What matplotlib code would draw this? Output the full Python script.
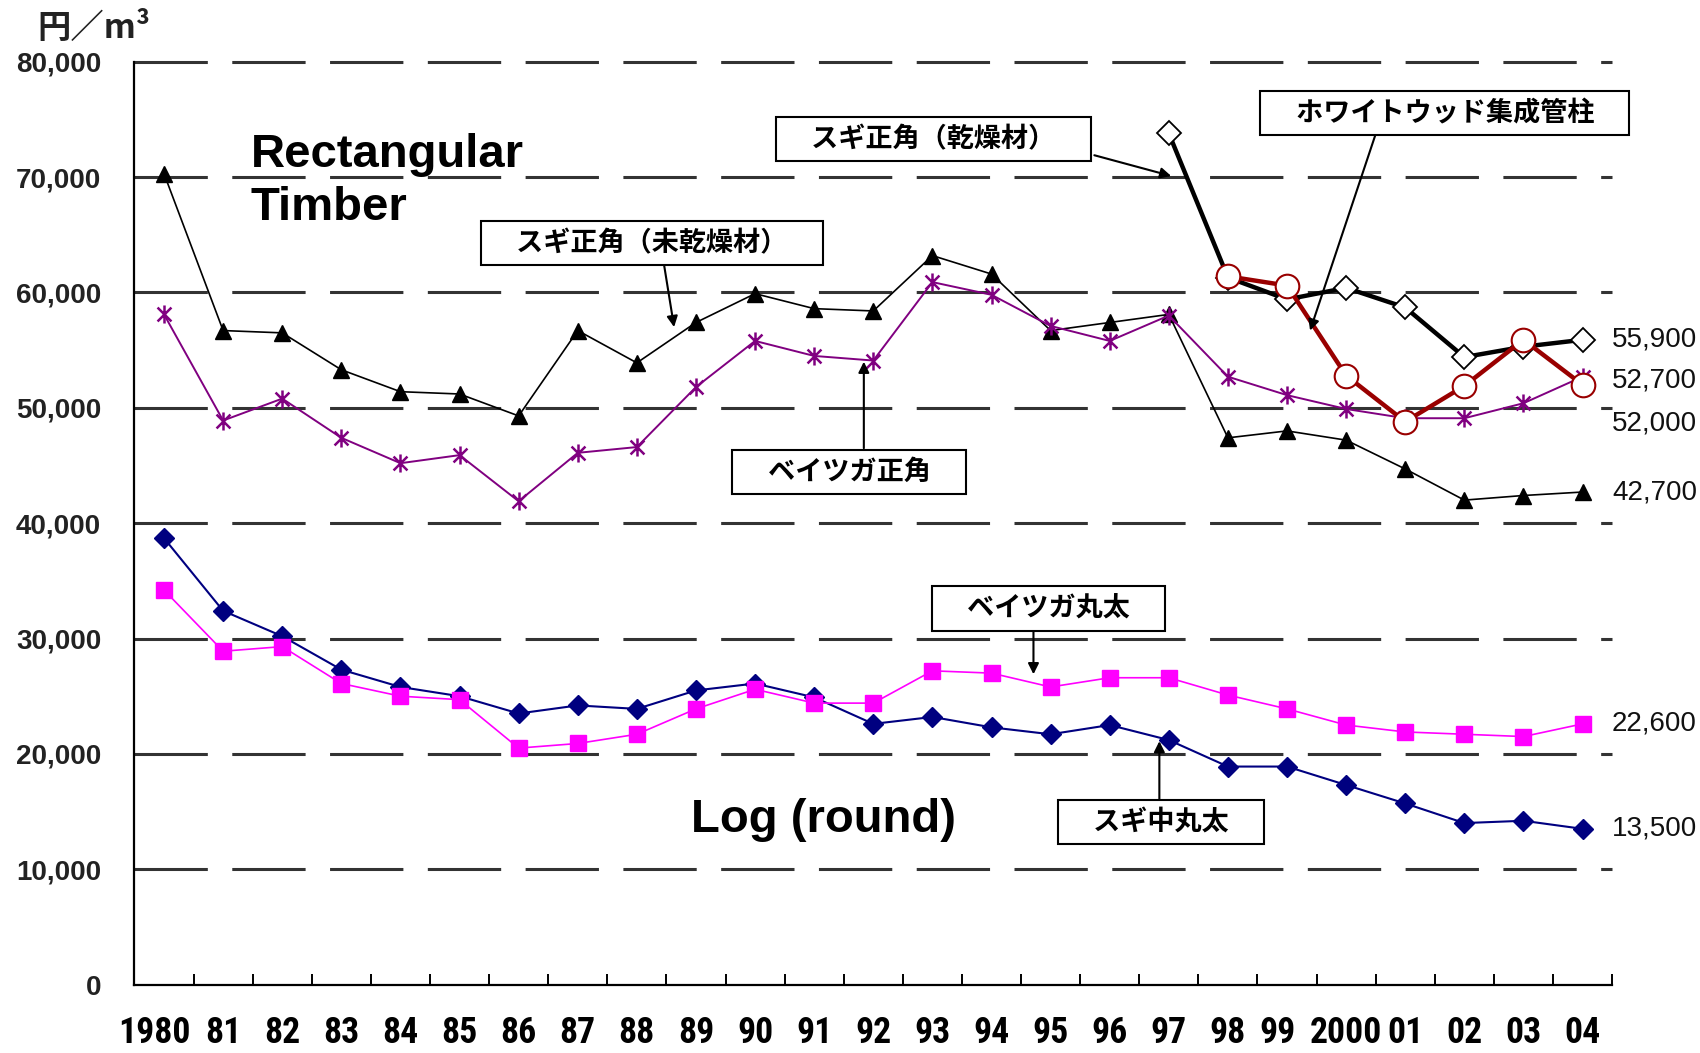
import matplotlib
matplotlib.use("Agg")
import matplotlib.pyplot as plt
from matplotlib import font_manager
from matplotlib.font_manager import FontProperties
from matplotlib.transforms import ScaledTranslation
from matplotlib.path import Path

# ---- data (円/m3) ----
YEARS = ["1980", "81", "82", "83", "84", "85", "86", "87", "88", "89", "90", "91", "92",
         "93", "94", "95", "96", "97", "98", "99", "2000", "01", "02", "03", "04"]

sugi_green = [70300, 56700, 56500, 53300, 51400, 51200, 49300, 56700, 53900, 57400, 59900, 58600, 58400,
              63200, 61600, 56700, 57400, 58100, 47400, 48000, 47200, 44700, 42000, 42400, 42700]
hemlock_sq = [58100, 48900, 50800, 47400, 45200, 45900, 41900, 46100, 46600, 51800, 55800, 54500, 54100,
              60900, 59800, 57100, 55800, 58000, 52700, 51100, 49900, 49100, 49100, 50400, 52700]
sugi_dry_years = YEARS[17:]
sugi_dry = [73800, 61300, 59400, 60400, 58700, 54400, 55300, 55900]
whitewood_years = YEARS[18:]
whitewood = [61400, 60600, 52800, 48800, 51900, 55900, 52000]
hemlock_log = [34200, 28900, 29300, 26100, 25000, 24700, 20500, 20900, 21700, 23900, 25600, 24400, 24400,
               27200, 27000, 25800, 26600, 26600, 25100, 23900, 22500, 21900, 21700, 21500, 22600]
sugi_log = [38700, 32400, 30200, 27300, 25800, 25000, 23500, 24200, 23900, 25500, 26100, 24900, 22600,
            23200, 22300, 21700, 22500, 21200, 18900, 18900, 17300, 15700, 14000, 14200, 13500]

END_LABELS = ["55,900", "52,700", "52,000", "42,700", "22,600", "13,500"]


def find_narrow_bold():
    """look for a condensed / narrow bold sans face, best first"""
    prefs = ["liberation sans narrow", "roboto condensed", "open sans condensed",
             "dejavu sans condensed", "noto sans condensed"]
    found = []
    for f in font_manager.fontManager.ttflist:
        n, fn = f.name.lower(), f.fname.lower()
        cond = ("narrow" in n or "condensed" in n or "narrow" in fn or "condensed" in fn
                or f.stretch in ("condensed", "semi-condensed", "extra-condensed"))
        w = f.weight if isinstance(f.weight, int) else (700 if "bold" in str(f.weight) else 400)
        if not cond or f.style != "normal" or w < 600 or "mono" in n or "serif" in n.replace("sans", ""):
            continue
        rank = next((i for i, p in enumerate(prefs) if p in n or p.replace(" ", "") in fn.replace("-", "")), 9)
        found.append((rank, abs(w - 700), f.fname))
    found.sort()
    return found[0][2] if found else None


plt.rcParams["font.family"] = ["Liberation Sans", "Noto Sans CJK JP", "DejaVu Sans"]
CJK = ["Noto Sans CJK JP", "DejaVu Sans"]

idx = list(range(len(YEARS)))
pos = {y: i for i, y in enumerate(YEARS)}

fig = plt.figure(figsize=(17, 10.53), dpi=100)
ax = fig.add_axes([0.0791, 0.065, 0.8692, 0.8763])

# x label font: narrow bold if present, sized so "2000" is ~72 px wide
nb = find_narrow_bold()
xfp = FontProperties(fname=nb) if nb else FontProperties(family="Liberation Sans", weight="bold")
renderer = fig.canvas.get_renderer()
probe = fig.text(0, 0, "2000", fontproperties=xfp, fontsize=10)
wpx = probe.get_window_extent(renderer).width
probe.remove()
xfp.set_size(min(10 * 72 / wpx, 30))

# grid
for v in range(10000, 80001, 10000):
    ax.axhline(v, color="#333333", lw=2.2, ls=(0, (24, 8)), zorder=1, clip_on=False)

ast = Path([(-1, -1), (1, 1), (-1, 1), (1, -1), (0, -1.3), (0, 1.3)],
           [Path.MOVETO, Path.LINETO] * 3)

ax.plot(idx, sugi_green, color="black", lw=1.2, marker="^", ms=12, zorder=3)
ax.plot(idx, hemlock_sq, color="#800080", lw=1.4, marker=ast, ms=13, mew=1.8,
        mec="#800080", zorder=3)
ax.plot([pos[y] for y in sugi_dry_years], sugi_dry, color="black", lw=3.2, marker="D", ms=12,
        mfc="white", mec="black", mew=1.3, zorder=4)
ax.plot([pos[y] for y in whitewood_years], whitewood, color="#990000", lw=3.2, marker="o", ms=17,
        mfc="white", mec="#990000", mew=1.5, zorder=5)
ax.plot(idx, sugi_log, color="#000080", lw=1.5, marker="D", ms=10, zorder=3)
ax.plot(idx, hemlock_log, color="#ff00ff", lw=1.2, marker="s", ms=11, zorder=4)

ax.set_xlim(-0.5, 24.5)
ax.set_ylim(0, 80000)

# axes styling
for s in ["top", "right"]:
    ax.spines[s].set_visible(False)
ax.spines["left"].set_linewidth(1.6)
ax.spines["bottom"].set_linewidth(1.6)
ax.set_xticks(idx)
ax.set_xticklabels(YEARS, fontproperties=xfp)
ax.set_xticks([i + 0.5 for i in range(-1, 25)], minor=True)
ax.tick_params(axis="x", which="major", length=0, pad=22)
ax.tick_params(axis="x", which="minor", direction="in", length=8, width=1.4)
# the original nudges a few crowded year labels to the left
for lab in ax.get_xticklabels():
    if lab.get_text() in ("1980", "99"):
        lab.set_transform(lab.get_transform() + ScaledTranslation(-0.1, 0, fig.dpi_scale_trans))
ax.set_yticks(range(0, 80001, 10000))
ax.set_yticklabels([f"{v:,}" for v in range(0, 80001, 10000)], fontsize=20,
                   fontweight="bold", color="#222222")
ax.tick_params(axis="y", length=0, pad=24)

# unit label
fig.text(0.022, 0.973, "円／m³", fontsize=24, family=CJK, fontweight="bold",
         va="center", ha="left", color="#222222")

# end labels
last_vals = [sugi_dry[-1], hemlock_sq[-1], whitewood[-1], sugi_green[-1], hemlock_log[-1], sugi_log[-1]]
offsets = [0, -3, -28, 0, 0, 0]
for lab, v, off in zip(END_LABELS, last_vals, offsets):
    ax.annotate(lab, (24.5, v), xytext=(0, off), textcoords="offset points",
                fontsize=20, va="center", ha="left",
                color="#111111", annotation_clip=False)

# headings
ax.text(1.47, 73850, "Rectangular\nTimber", fontsize=34, fontweight="bold",
        va="top", ha="left", linespacing=1.27)
ax.text(11.16, 14300, "Log (round)", fontsize=34, fontweight="bold", va="center", ha="center")

# callout boxes
box = dict(boxstyle="square,pad=0.3", fc="white", ec="black", lw=1.5)
arrow = dict(arrowstyle="-|>", color="black", lw=1.5, mutation_scale=16, shrinkA=0, shrinkB=0)
callouts = [
    ("スギ正角（未乾燥材）", (8.26, 64290), (8.46, 62400), (8.63, 57000)),
    ("ベイツガ正角", (11.59, 44450), (11.84, 46500), (11.84, 54000)),
    ("スギ正角（乾燥材）", (13.02, 73310), (15.74, 71900), (17.04, 70100)),
    ("ホワイトウッド集成管柱", (21.67, 75560), (20.49, 73590), (19.39, 56700)),
    ("ベイツガ丸太", (14.97, 32610), (14.71, 31000), (14.71, 26900)),
    ("スギ中丸太", (16.87, 14100), (16.84, 15700), (16.84, 21100)),
]
for label, tpos, start, tip in callouts:
    ax.annotate("", xy=tip, xytext=start, arrowprops=arrow, zorder=6)
    ax.text(tpos[0], tpos[1], "\u3000" + label + "\u3000", fontsize=19.5, fontweight="bold",
            family=CJK, ha="center", va="center", bbox=box, zorder=7)

fig.savefig("out.png", dpi=100)
